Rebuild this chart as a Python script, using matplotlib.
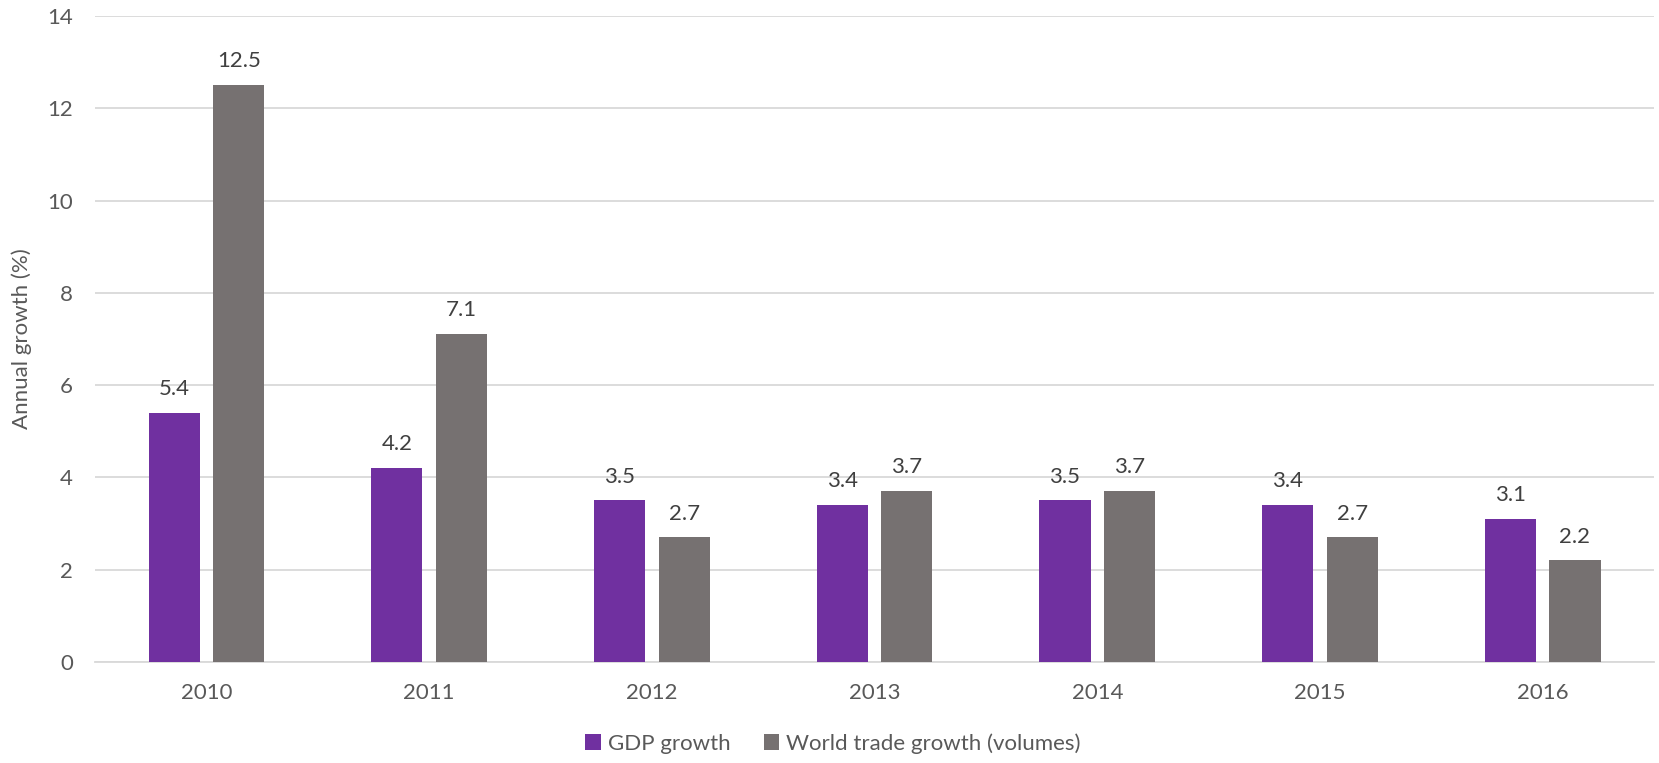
import numpy as np
import matplotlib.pyplot as plt

years = ["2010", "2011", "2012", "2013", "2014", "2015", "2016"]
gdp_growth = [5.4, 4.2, 3.5, 3.4, 3.5, 3.4, 3.1]
trade_growth = [12.5, 7.1, 2.7, 3.7, 3.7, 2.7, 2.2]

purple = "#7030A0"
grey = "#767171"
text_col = "#595959"

plt.rcParams["font.family"] = ["Lato", "DejaVu Sans"]
fs = 16

fig = plt.figure(figsize=(16.59, 7.63), dpi=100)
ax = fig.add_axes([0.0573, 0.1324, 0.9397, 0.8466])

x = np.arange(len(years))
w = 0.23
off = 0.145
b1 = ax.bar(x - off, gdp_growth, w, color=purple, label="GDP growth", zorder=3)
b2 = ax.bar(x + off, trade_growth, w, color=grey, label="World trade growth (volumes)", zorder=3)

for bars in (b1, b2):
    for bar in bars:
        h = bar.get_height()
        ax.annotate(f"{h:.1f}", (bar.get_x() + bar.get_width() / 2, h),
                    xytext=(0, 10), textcoords="offset points",
                    ha="center", va="bottom", fontsize=fs, color="#404040")

ax.set_xlim(-0.5, len(years) - 0.5)
ax.set_ylim(0, 14)
ax.set_yticks(range(0, 15, 2))
ax.set_xticks(x)
ax.set_xticklabels(years)
ax.grid(axis="y", color="#D9D9D9", linewidth=1.3, zorder=0)
for s in ["top", "right", "left"]:
    ax.spines[s].set_visible(False)
ax.spines["bottom"].set_color("#D9D9D9")
ax.spines["bottom"].set_linewidth(1.3)
ax.tick_params(axis="both", length=0, labelsize=fs, labelcolor=text_col)
ax.tick_params(axis="x", pad=15)
ax.tick_params(axis="y", pad=16)
ax.set_ylabel("Annual growth (%)", fontsize=fs, color=text_col, labelpad=11)

fig.legend(handles=[b1, b2], loc="lower center", bbox_to_anchor=(0.502, -0.014),
           ncol=2, frameon=False, fontsize=fs, labelcolor=text_col,
           handlelength=0.7, handleheight=0.7, handletextpad=0.3,
           columnspacing=1.5)

fig.savefig("out.png", dpi=100)
